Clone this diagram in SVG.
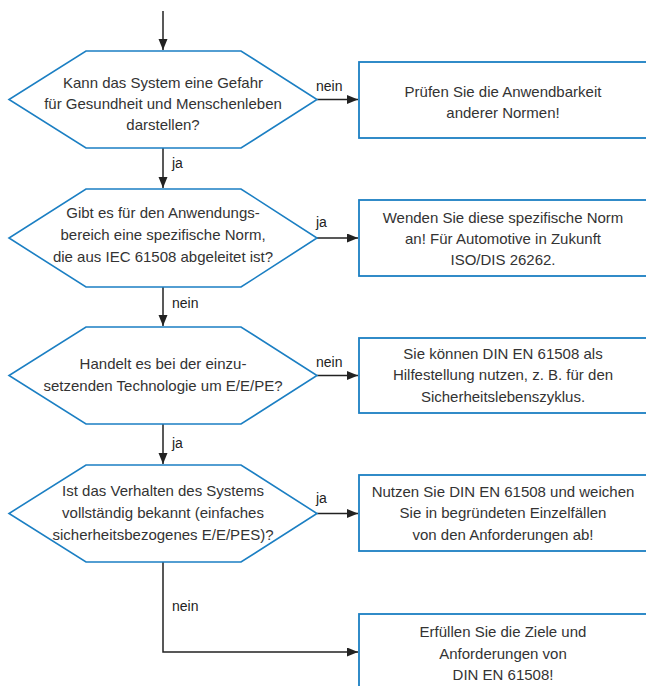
<svg xmlns="http://www.w3.org/2000/svg" width="646" height="686" viewBox="0 0 646 686">
<style>
.hex{fill:#fff;stroke:#1b7fc3;stroke-width:1.6}
.box{fill:#fff;stroke:#1b7fc3;stroke-width:1.8}
.t{font-family:"Liberation Sans",Arial,sans-serif;font-size:15px;fill:#333;text-anchor:middle}
.lb{font-family:"Liberation Sans",Arial,sans-serif;font-size:14px;fill:#222}
.c{fill:none;stroke:#222;stroke-width:1.5}
</style>
<defs>
<marker id="ah" markerUnits="userSpaceOnUse" markerWidth="12" markerHeight="10" refX="11" refY="4.5" orient="auto">
<path d="M0,0 L11,4.5 L0,9 z" fill="#222"/>
</marker>
</defs>
<rect width="646" height="686" fill="#fff"/>
<g id="connectors">
<path class="c" d="M163,11 V50" marker-end="url(#ah)"/>
<path class="c" d="M317,99.5 H358" marker-end="url(#ah)"/>
<path class="c" d="M163,148 V188" marker-end="url(#ah)"/>
<path class="c" d="M317,238 H358" marker-end="url(#ah)"/>
<path class="c" d="M163,287 V326" marker-end="url(#ah)"/>
<path class="c" d="M317,375.5 H358" marker-end="url(#ah)"/>
<path class="c" d="M163,424 V464" marker-end="url(#ah)"/>
<path class="c" d="M317,513.5 H358" marker-end="url(#ah)"/>
<path class="c" d="M163,562 V652 H358" marker-end="url(#ah)"/>
<text class="lb" x="316" y="91">nein</text>
<text class="lb" x="172" y="168">ja</text>
<text class="lb" x="316" y="227">ja</text>
<text class="lb" x="172" y="308">nein</text>
<text class="lb" x="316" y="367">nein</text>
<text class="lb" x="172" y="448">ja</text>
<text class="lb" x="316" y="503">ja</text>
<text class="lb" x="172" y="611">nein</text>
</g>
<g id="q1">
<polygon class="hex" points="86,51 241,51 317,99.5 241,148 86,148 9,99.5"/>
<text class="t" x="163" y="88">Kann das System eine Gefahr</text>
<text class="t" x="163" y="109">für Gesundheit und Menschenleben</text>
<text class="t" x="163" y="130">darstellen?</text>
</g>
<g id="q2">
<polygon class="hex" points="86,189 241,189 317,238 241,287 86,287 9,238"/>
<text class="t" x="163" y="218">Gibt es für den Anwendungs-</text>
<text class="t" x="163" y="240">bereich eine spezifische Norm,</text>
<text class="t" x="163" y="262">die aus IEC 61508 abgeleitet ist?</text>
</g>
<g id="q3">
<polygon class="hex" points="86,327 241,327 317,375.5 241,424 86,424 9,375.5"/>
<text class="t" x="163" y="369">Handelt es bei der einzu-</text>
<text class="t" x="163" y="391">setzenden Technologie um E/E/PE?</text>
</g>
<g id="q4">
<polygon class="hex" points="86,465 241,465 317,513.5 241,562 86,562 9,513.5"/>
<text class="t" x="163" y="496">Ist das Verhalten des Systems</text>
<text class="t" x="163" y="518">vollständig bekannt (einfaches</text>
<text class="t" x="163" y="540">sicherheitsbezogenes E/E/PES)?</text>
</g>
<g id="b1">
<rect class="box" x="359" y="62" width="300" height="76"/>
<text class="t" x="503" y="97">Prüfen Sie die Anwendbarkeit</text>
<text class="t" x="503" y="118">anderer Normen!</text>
</g>
<g id="b2">
<rect class="box" x="359" y="200" width="300" height="76"/>
<text class="t" x="503" y="223">Wenden Sie diese spezifische Norm</text>
<text class="t" x="503" y="244">an! Für Automotive in Zukunft</text>
<text class="t" x="503" y="265">ISO/DIS 26262.</text>
</g>
<g id="b3">
<rect class="box" x="359" y="338" width="300" height="75"/>
<text class="t" x="503" y="359">Sie können DIN EN 61508 als</text>
<text class="t" x="503" y="380">Hilfestellung nutzen, z. B. für den</text>
<text class="t" x="503" y="402">Sicherheitslebenszyklus.</text>
</g>
<g id="b4">
<rect class="box" x="359" y="475" width="300" height="76"/>
<text class="t" x="503" y="497">Nutzen Sie DIN EN 61508 und weichen</text>
<text class="t" x="503" y="518">Sie in begründeten Einzelfällen</text>
<text class="t" x="503" y="540">von den Anforderungen ab!</text>
</g>
<g id="b5">
<rect class="box" x="359" y="614" width="300" height="90"/>
<text class="t" x="503" y="637">Erfüllen Sie die Ziele und</text>
<text class="t" x="503" y="659">Anforderungen von</text>
<text class="t" x="503" y="680">DIN EN 61508!</text>
</g>
</svg>
